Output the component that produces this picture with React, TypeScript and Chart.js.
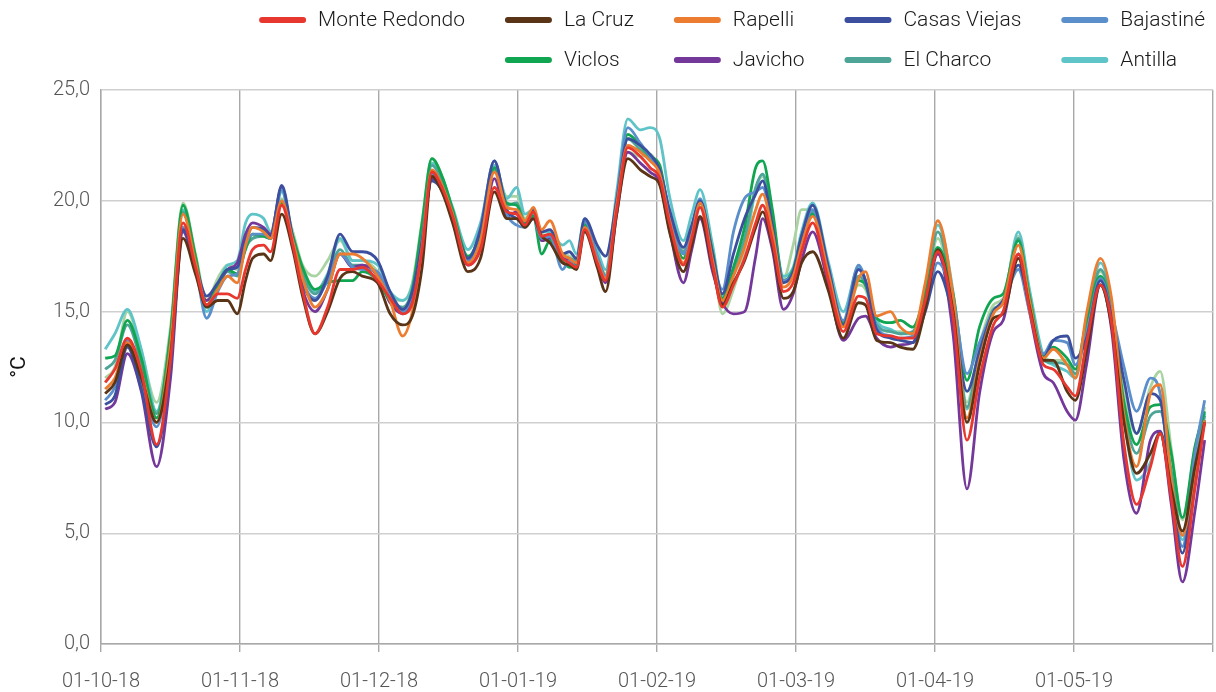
import React, { useEffect, useRef } from 'react';
import { Chart, registerables } from 'chart.js';

Chart.register(...registerables);

// Month tick labels (one per month boundary; the last boundary 01-06-19 is unlabeled)
const MONTH_LABELS = ['01-10-18', '01-11-18', '01-12-18', '01-01-19', '01-02-19', '01-03-19', '01-04-19', '01-05-19', ''];

// Sample positions, in months since 01-10-18
const X_POS = [
  0.03, 0.10, 0.19, 0.29, 0.40, 0.50, 0.59, 0.68, 0.76, 0.84,
  0.91, 0.98, 1.04, 1.09, 1.17, 1.22, 1.30, 1.38, 1.45, 1.54,
  1.63, 1.72, 1.81, 1.88, 1.99, 2.08, 2.17, 2.24, 2.31, 2.38,
  2.46, 2.53, 2.64, 2.73, 2.83, 2.92, 2.99, 3.05, 3.11, 3.17,
  3.23, 3.32, 3.37, 3.42, 3.48, 3.57, 3.63, 3.71, 3.79, 3.88,
  3.95, 4.02, 4.09, 4.19, 4.25, 4.31, 4.40, 4.47, 4.55, 4.63,
  4.71, 4.76, 4.83, 4.91, 4.98, 5.04, 5.12, 5.23, 5.34, 5.45,
  5.50, 5.58, 5.68, 5.75, 5.84, 5.93, 6.02, 6.13, 6.23, 6.32,
  6.42, 6.49, 6.60, 6.68, 6.78, 6.85, 6.95, 7.01, 7.09, 7.19,
  7.27, 7.36, 7.45, 7.55, 7.62, 7.70, 7.78, 7.87, 7.94,
];

const MONTE_REDONDO = [
  11.8, 12.4, 13.8, 12.3, 9.0, 12.8, 19.0, 17.0, 15.3, 15.8,
  15.8, 15.6, 16.9, 17.8, 18.0, 17.7, 19.8, 18.0, 15.9, 14.0,
  15.2, 16.9, 16.9, 17.0, 16.4, 15.6, 14.9, 15.4, 17.8, 21.3,
  20.5, 19.3, 17.1, 17.8, 20.6, 19.5, 19.4, 18.9, 19.5, 18.4,
  18.5, 17.4, 17.2, 17.0, 18.7, 17.2, 16.4, 19.6, 22.4, 22.0,
  21.5, 21.0, 19.0, 17.1, 18.3, 19.7, 17.1, 15.2, 16.2, 17.4,
  19.0, 19.8, 18.2, 15.9, 16.3, 17.7, 19.0, 16.5, 14.1, 15.7,
  15.6, 14.0, 13.9, 13.8, 13.8, 15.5, 17.7, 14.8, 9.2, 12.0,
  14.4, 15.0, 17.6, 15.1, 12.6, 12.4, 11.6, 11.2, 13.6, 16.2,
  14.5, 9.0, 6.3, 8.0, 9.5, 6.6, 3.5, 7.0, 10.0,
];

const LA_CRUZ = [
  11.3, 11.8, 13.5, 12.0, 10.0, 13.0, 18.3, 16.7, 15.2, 15.5,
  15.5, 14.9, 16.4, 17.4, 17.6, 17.3, 19.4, 17.8, 15.7, 14.0,
  15.0, 16.5, 16.8, 16.6, 16.3, 14.9, 14.4, 14.8, 17.0, 21.1,
  20.3, 19.0, 16.8, 17.4, 20.4, 19.2, 19.2, 18.8, 19.2, 18.4,
  18.1, 17.2, 17.1, 16.9, 18.6, 17.0, 15.9, 19.4, 21.9, 21.4,
  21.1, 20.7, 18.6, 16.8, 18.0, 19.3, 17.0, 15.3, 16.3, 17.3,
  18.8, 19.5, 18.0, 15.6, 15.9, 17.2, 17.7, 16.0, 13.8, 15.4,
  15.3, 13.7, 13.6, 13.4, 13.3, 15.1, 17.8, 15.0, 10.0, 12.6,
  14.7, 14.9, 17.4, 15.2, 12.8, 12.8, 11.4, 11.0, 13.2, 16.2,
  14.4, 10.0, 7.7, 8.6, 9.5, 7.0, 5.1, 8.0, 10.0,
];

const RAPELLI = [
  11.5, 12.0, 13.6, 12.2, 10.0, 13.5, 19.4, 17.2, 15.3, 16.0,
  16.6, 16.3, 18.0, 18.8, 18.6, 18.3, 20.0, 18.2, 16.5, 15.2,
  16.0, 17.6, 17.6, 17.4, 16.6, 15.5, 13.9, 15.0, 17.9, 21.4,
  20.6, 19.4, 17.2, 18.2, 21.3, 19.7, 19.6, 19.1, 19.7, 18.7,
  19.1, 17.6, 17.4, 17.2, 18.8, 17.3, 16.5, 19.8, 22.5, 22.2,
  21.8, 21.2, 19.1, 17.2, 18.4, 19.9, 17.3, 15.5, 16.6, 17.9,
  19.6, 20.3, 18.6, 16.1, 16.6, 18.0, 19.3, 16.8, 14.3, 16.5,
  16.8, 14.8, 15.0, 14.3, 14.0, 16.3, 19.1, 15.7, 10.2, 12.8,
  14.9, 15.4, 18.0, 15.5, 12.9, 13.3, 12.6, 12.0, 14.9, 17.4,
  15.6, 10.3, 8.0, 11.3, 11.7, 7.4, 4.9, 7.8, 10.1,
];

const CASAS_VIEJAS = [
  10.8, 11.2, 13.4, 11.5, 8.9, 12.5, 18.7, 17.1, 15.7, 16.3,
  16.9, 17.0, 18.2, 18.8, 18.7, 18.4, 20.7, 18.3, 16.3, 15.5,
  16.6, 18.5, 17.7, 17.7, 17.3, 15.9, 15.1, 15.9, 18.2, 20.9,
  20.4, 19.3, 17.4, 18.7, 21.8, 19.6, 19.2, 18.9, 19.6, 18.6,
  18.7, 17.6, 17.7, 17.4, 19.2, 18.0, 17.5, 20.0, 22.8, 22.5,
  22.1, 21.4, 19.6, 17.9, 18.9, 20.0, 17.6, 15.8, 17.6, 19.2,
  20.3, 20.9, 18.9, 16.3, 16.8, 18.4, 19.8, 17.1, 14.4, 16.9,
  16.4, 14.2, 13.8, 13.7, 13.6, 15.0, 16.8, 14.8, 11.4, 13.2,
  15.0, 15.5, 17.1, 15.3, 12.9, 13.7, 13.9, 12.9, 13.8, 16.4,
  14.8, 11.9, 9.5, 11.3, 11.0, 7.0, 4.1, 7.6, 10.1,
];

const BAJASTINE = [
  11.0, 11.6, 13.7, 11.8, 9.8, 13.2, 18.8, 17.0, 14.7, 15.9,
  16.6, 16.7, 18.0, 18.5, 18.5, 18.3, 20.5, 18.2, 16.4, 15.6,
  16.4, 17.6, 17.0, 16.9, 16.8, 15.6, 15.0, 15.8, 18.3, 21.2,
  20.4, 19.2, 17.3, 18.8, 21.8, 19.4, 18.9, 18.8, 19.2, 18.3,
  18.4, 16.9, 17.3, 17.0, 19.1, 17.5, 16.6, 20.1, 23.3, 22.6,
  22.0, 21.4, 19.5, 17.6, 18.8, 20.1, 17.4, 16.0, 18.6, 20.1,
  20.4, 20.6, 18.8, 16.4, 16.8, 18.3, 19.6, 17.0, 14.6, 17.1,
  16.4, 14.3, 13.9, 13.8, 13.9, 15.2, 17.2, 15.6, 12.2, 13.6,
  15.0, 15.4, 16.9, 15.0, 13.1, 13.7, 13.6, 12.6, 14.0, 16.5,
  15.0, 12.5, 10.5, 12.0, 11.3, 7.2, 4.4, 8.6, 11.0,
];

const VICLOS = [
  12.9, 13.0, 14.6, 12.9, 10.2, 14.0, 19.8, 17.5, 15.3, 16.2,
  16.9, 16.7, 17.8, 18.5, 18.4, 18.3, 19.9, 18.4, 17.0, 16.0,
  16.3, 16.4, 16.4, 16.8, 16.4, 15.5, 15.0, 16.0, 19.0, 21.9,
  21.0, 19.6, 17.5, 18.6, 21.5, 19.9, 19.8, 19.0, 19.3, 17.6,
  18.2, 17.3, 17.0, 17.1, 18.9, 17.4, 16.6, 20.0, 23.0, 22.5,
  22.0, 21.6, 19.3, 17.4, 18.7, 19.9, 17.7, 15.6, 17.0, 18.8,
  21.5, 21.8, 19.6, 16.4, 16.9, 18.4, 19.4, 16.9, 14.5, 16.4,
  16.2, 14.7, 14.5, 14.6, 14.3, 15.8, 17.9, 15.8, 11.9, 14.3,
  15.6, 15.8, 18.2, 15.7, 13.0, 13.4, 12.9, 12.4, 14.6, 16.6,
  15.0, 10.9, 9.0, 10.7, 10.8, 8.6, 5.7, 8.9, 10.5,
];

const JAVICHO = [
  10.6, 10.9, 13.1, 11.4, 8.0, 12.0, 18.6, 16.9, 15.5, 16.2,
  16.9, 17.2, 18.5, 19.0, 18.8, 18.5, 20.6, 18.1, 16.0, 15.0,
  16.0, 17.6, 17.0, 17.1, 16.6, 15.4, 14.9, 15.6, 18.0, 21.0,
  20.4, 19.1, 17.1, 17.9, 21.0, 19.3, 19.5, 19.0, 19.3, 18.2,
  18.3, 17.4, 17.3, 17.1, 18.9, 17.3, 16.3, 19.4, 22.2, 21.7,
  21.3, 20.8, 18.7, 16.3, 17.8, 19.2, 16.8, 15.4, 14.9, 15.0,
  17.5, 19.2, 17.8, 15.1, 15.8, 17.3, 18.6, 16.3, 13.7, 14.7,
  14.8, 13.8, 13.4, 13.5, 13.6, 15.3, 17.6, 14.0, 7.0, 11.3,
  14.1, 14.6, 17.6, 15.0, 12.2, 11.8, 10.5, 10.1, 12.6, 16.2,
  14.2, 8.3, 5.9, 9.2, 9.6, 6.3, 2.8, 6.0, 9.2,
];

const EL_CHARCO = [
  12.4, 12.8, 14.4, 12.7, 10.4, 13.9, 19.5, 17.3, 15.2, 16.1,
  16.8, 16.6, 17.9, 18.3, 18.4, 18.3, 20.0, 18.4, 16.7, 15.8,
  16.6, 17.8, 17.1, 17.1, 16.7, 15.6, 15.2, 16.0, 18.6, 21.6,
  20.8, 19.5, 17.3, 18.5, 21.4, 19.8, 19.9, 19.1, 19.4, 18.3,
  18.3, 17.5, 17.4, 17.3, 19.0, 17.5, 16.6, 19.9, 22.8, 22.3,
  21.9, 21.4, 19.4, 17.7, 18.8, 19.9, 17.6, 15.5, 16.9, 18.3,
  20.6, 21.2, 19.1, 16.4, 16.8, 18.4, 19.5, 16.9, 14.5, 16.6,
  16.2, 14.4, 14.1, 14.0, 14.1, 15.8, 18.6, 15.6, 10.7, 13.2,
  15.1, 15.4, 18.3, 15.6, 12.8, 12.7, 12.6, 12.2, 14.5, 16.9,
  15.2, 10.6, 8.6, 10.3, 10.5, 7.8, 4.9, 8.0, 10.3,
];

const ANTILLA = [
  13.3, 14.0, 15.1, 13.3, 10.5, 14.0, 19.6, 17.3, 15.0, 16.2,
  17.1, 17.3, 19.0, 19.4, 19.2, 18.6, 20.4, 18.4, 16.8, 15.9,
  16.7, 18.3, 17.3, 17.3, 17.1, 15.9, 15.5, 16.2, 18.8, 21.7,
  20.9, 19.7, 17.8, 19.0, 21.6, 20.1, 20.6, 19.4, 19.6, 18.6,
  18.6, 18.0, 18.2, 17.6, 19.2, 17.8, 16.9, 20.4, 23.7, 23.2,
  23.3, 22.8, 20.2, 18.2, 19.4, 20.5, 18.0, 15.7, 16.8, 18.0,
  20.5, 21.2, 19.2, 16.6, 17.0, 18.6, 19.9, 17.3, 15.0, 17.0,
  16.4, 14.6, 14.2, 14.0, 14.0, 16.0, 18.9, 15.9, 10.6, 13.0,
  15.0, 15.4, 18.6, 16.0, 13.0, 12.6, 12.3, 12.0, 14.6, 17.2,
  15.4, 10.2, 7.4, 8.2, 9.6, 7.0, 4.7, 8.0, 10.4,
];

// Pale green line drawn in the chart but without a legend entry
const SIN_LEYENDA = [
  12.0, 12.5, 15.0, 13.2, 10.9, 14.3, 19.9, 17.6, 15.5, 16.5,
  17.1, 16.9, 17.9, 18.3, 18.5, 18.3, 20.1, 18.6, 17.1, 16.6,
  17.3, 18.2, 17.3, 17.3, 16.8, 15.7, 15.5, 16.3, 19.1, 21.9,
  21.0, 19.4, 17.4, 18.4, 21.6, 20.2, 20.2, 19.2, 19.6, 18.5,
  18.4, 17.6, 17.5, 17.3, 19.0, 17.6, 16.7, 19.8, 22.2, 22.0,
  22.1, 21.2, 19.2, 17.8, 18.8, 19.7, 17.6, 14.9, 16.0, 17.8,
  20.5, 21.1, 19.0, 16.5, 18.0, 19.6, 19.6, 17.0, 14.5, 16.2,
  16.0, 14.4, 14.1, 14.1, 14.0, 15.9, 18.3, 15.4, 10.9, 13.5,
  15.3, 15.6, 18.4, 15.8, 13.0, 12.8, 12.8, 12.1, 14.5, 16.8,
  15.3, 11.3, 9.5, 11.6, 12.3, 8.8, 5.6, 8.8, 10.7,
];

const SERIES = [
  { name: 'Monte Redondo', values: MONTE_REDONDO, color: '#e8372e' },
  { name: 'La Cruz', values: LA_CRUZ, color: '#5a3416' },
  { name: 'Rapelli', values: RAPELLI, color: '#ec7c30' },
  { name: 'Casas Viejas', values: CASAS_VIEJAS, color: '#3b4f9e' },
  { name: 'Bajastiné', values: BAJASTINE, color: '#5a8fcb' },
  { name: 'Viclos', values: VICLOS, color: '#10a550' },
  { name: 'Javicho', values: JAVICHO, color: '#74379a' },
  { name: 'El Charco', values: EL_CHARCO, color: '#4ea597' },
  { name: 'Antilla', values: ANTILLA, color: '#5fc4c8' },
  { name: '', values: SIN_LEYENDA, color: '#a9d4a2' },
];

// Legend grid: rows of dataset indices (-1 = empty cell)
const LEGEND_ROWS = [
  [0, 1, 2, 3, 4],
  [-1, 5, 6, 7, 8],
];

const FONT_FAMILY = 'Roboto, "Liberation Sans", Arial, sans-serif';

const gridLegend = {
  id: 'gridLegend',
  afterDraw(chart: any) {
    const ctx = chart.ctx as CanvasRenderingContext2D;
    const ds = chart.data.datasets;
    const lineLen = 47;
    const gap = 12;
    const colGap = 40;
    const rightEdge = 1205;
    const rowY = [20, 60];
    ctx.save();
    ctx.font = `300 21px ${FONT_FAMILY}`;
    const nCols = LEGEND_ROWS[0].length;
    const colW: number[] = [];
    for (let c = 0; c < nCols; c++) {
      let w = 0;
      for (const row of LEGEND_ROWS) {
        const idx = row[c];
        if (idx < 0) continue;
        w = Math.max(w, lineLen + gap + ctx.measureText(ds[idx].label).width);
      }
      colW.push(w);
    }
    const total = colW.reduce((a, b) => a + b, 0) + colGap * (nCols - 1);
    const colX: number[] = [];
    let x = rightEdge - total;
    for (let c = 0; c < nCols; c++) {
      colX.push(x);
      x += colW[c] + colGap;
    }
    LEGEND_ROWS.forEach((row, r) => {
      row.forEach((idx, c) => {
        if (idx < 0) return;
        const y = rowY[r];
        ctx.strokeStyle = ds[idx].borderColor;
        ctx.lineWidth = 6;
        ctx.lineCap = 'round';
        ctx.beginPath();
        ctx.moveTo(colX[c] + 3, y);
        ctx.lineTo(colX[c] + lineLen - 3, y);
        ctx.stroke();
        ctx.fillStyle = '#1a1a1a';
        ctx.textBaseline = 'middle';
        ctx.textAlign = 'left';
        ctx.fillText(ds[idx].label, colX[c] + lineLen + gap, y + 1);
      });
    });
    ctx.restore();
  },
};

export default function App() {
  const canvasRef = useRef<HTMLCanvasElement | null>(null);

  useEffect(() => {
    if (!canvasRef.current) return;
    const datasets = SERIES.map((s) => ({
      label: s.name,
      data: X_POS.map((x, i) => ({ x, y: s.values[i] })),
      borderColor: s.color,
      backgroundColor: s.color,
      borderWidth: 2.8,
      pointRadius: 0,
      cubicInterpolationMode: 'monotone' as const,
      fill: false,
    }));

    const chart = new Chart(canvasRef.current, {
      type: 'line',
      data: { datasets },
      options: {
        animation: false,
        responsive: false,
        devicePixelRatio: 1,
        layout: { padding: { top: 90, right: 3, left: 0, bottom: 0 } },
        plugins: {
          legend: { display: false },
          tooltip: { enabled: false },
        },
        scales: {
          x: {
            type: 'linear',
            min: 0,
            max: 8,
            afterFit: (scale: any) => {
              scale.height = 48;
              scale.paddingLeft = 0;
              scale.paddingRight = 3;
            },
            ticks: {
              stepSize: 1,
              autoSkip: false,
              maxRotation: 0,
              padding: 18,
              color: '#555',
              font: { family: FONT_FAMILY, size: 20, weight: 300 as any },
              callback: (v: any) => MONTH_LABELS[Math.round(Number(v))] ?? '',
            },
            grid: {
              color: '#a8a8a8',
              lineWidth: 1.4,
              tickLength: 8,
              drawTicks: true,
            },
            border: { color: '#a8a8a8', width: 1.4 },
          },
          y: {
            min: 0,
            max: 25,
            afterFit: (scale: any) => {
              scale.width = 101;
            },
            ticks: {
              stepSize: 5,
              padding: 11,
              color: '#555',
              font: { family: FONT_FAMILY, size: 20, weight: 300 as any },
              callback: (v: any) => Number(v).toFixed(1).replace('.', ','),
            },
            grid: { color: '#cfcfcf', lineWidth: 1.4, drawTicks: false },
            border: { color: '#a8a8a8', width: 1.4 },
            title: {
              display: true,
              text: '°C',
              color: '#111',
              font: { family: FONT_FAMILY, size: 21 },
              padding: { top: 7, bottom: 0 },
            },
          },
        },
      },
      plugins: [gridLegend],
    });

    return () => chart.destroy();
  }, []);

  return (
    <div style={{ position: 'absolute', left: 0, top: 0, width: 1216, height: 692, background: '#fff' }}>
      <canvas ref={canvasRef} width={1216} height={692} style={{ display: 'block' }} />
    </div>
  );
}
